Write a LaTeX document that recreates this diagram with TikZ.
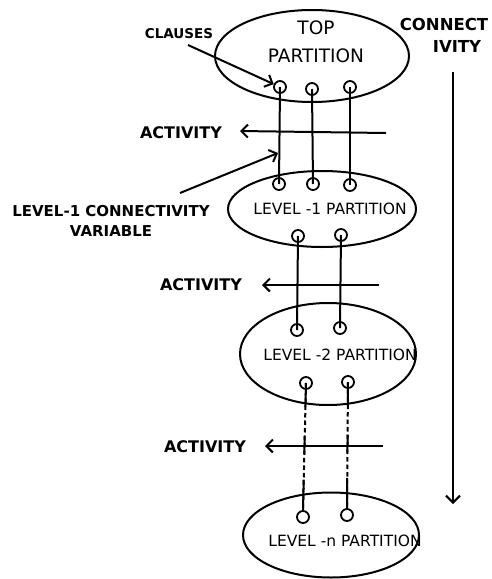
\documentclass[tikz,border=0pt]{standalone}
\usepackage{fontspec}
\setmainfont{DejaVu Sans}
\usetikzlibrary{shapes.geometric,arrows.meta,calc}
\begin{document}
\begin{tikzpicture}[x=1pt,y=-1pt,
  ln/.style={line width=2pt},
  part/.style={draw, ellipse, line width=2pt, inner sep=0pt},
  cl/.style={draw, circle, line width=1.8pt, minimum size=12pt, inner sep=0pt},
  arr/.style={line width=2pt, -{Straight Barb[length=6.5pt,width=13pt]}},
  bl/.style={font=\fontsize{16}{19}\selectfont\bfseries, inner sep=0pt},
  pl/.style={font=\fontsize{15.5}{18}\selectfont, inner sep=0pt},
  dsh/.style={line width=2pt, dash pattern=on 4.5pt off 3pt}]
\useasboundingbox (0,0) rectangle (492,579);

% partitions
\node[part, minimum width=194pt, minimum height=92pt] (top) at (312,56) {};
\node[part, minimum width=188pt, minimum height=76pt] (l1) at (322,209) {};
\node[part, minimum width=176pt, minimum height=102pt] (l2) at (328,354) {};
\node[part, minimum width=176pt, minimum height=85pt] (lnn) at (331,535) {};

\node[align=center, font=\fontsize{18.5}{28}\selectfont, inner sep=0pt] (toptxt) at (316,42) {TOP\\PARTITION};
\node[pl] (l1txt) at (330,209) {LEVEL -1 PARTITION};
\node[pl] (l2txt) at (340,355) {LEVEL -2 PARTITION};
\node[pl] (lntxt) at (345,541) {LEVEL -n PARTITION};

% clause circles
\node[cl] (c1) at (280,87) {};
\node[cl] (c2) at (312,89) {};
\node[cl] (c3) at (350,87) {};
\node[cl] (d1) at (279,184) {};
\node[cl] (d2) at (313,184) {};
\node[cl] (d3) at (350,185) {};
\node[cl] (e1) at (298,236) {};
\node[cl] (e2) at (341,235) {};
\node[cl] (f1) at (297,330) {};
\node[cl] (f2) at (340,328) {};
\node[cl] (g1) at (306,383) {};
\node[cl] (g2) at (348,382) {};
\node[cl] (h1) at (303,517) {};
\node[cl] (h2) at (347,515) {};

% connectivity variables
\draw[ln] (c1.center) -- (d1.center);
\draw[ln] (c2.center) -- (d2.center);
\draw[ln] (c3.center) -- (d3.center);
\draw[ln] (e1.center) -- (f1.center);
\draw[ln] (e2.center) -- (f2.center);
\foreach \g/\h in {g1/h1, g2/h2} {
  \draw[dsh] (\g.center) -- (\h.north);
  \draw[ln] (\g.center) -- ($(\g.center)!0.19!(\h.north)$);
  \draw[ln] ($(\g.center)!0.42!(\h.north)$) -- ($(\g.center)!0.56!(\h.north)$);
  \draw[ln] ($(\g.center)!0.76!(\h.north)$) -- (\h.north);
}

% activity arrows
\node[bl] (act1) at (181,133) {ACTIVITY};
\node[bl] (act2) at (201,285) {ACTIVITY};
\node[bl] (act3) at (205,447) {ACTIVITY};
\coordinate (a1s) at (386,133); \coordinate (a1e) at (240,131);
\coordinate (a2s) at (379,285); \coordinate (a2e) at (262,285);
\coordinate (a3s) at (383,446); \coordinate (a3e) at (265,446);
\draw[arr] (a1s) -- (a1e);
\draw[arr] (a2s) -- (a2e);
\draw[arr] (a3s) -- (a3e);

% connectivity
\node[bl, font=\fontsize{16.5}{19}\selectfont\bfseries] (conn1) at (444,24) {CONNECT};
\node[bl, font=\fontsize{16.5}{19}\selectfont\bfseries] (conn2) at (457,46) {IVITY};
\coordinate (cs) at (453,72); \coordinate (ce) at (453,504);
\draw[line width=2pt, -{Straight Barb[length=7pt,width=14pt]}] (cs) -- (ce);

% clauses label
\node[font=\fontsize{13.5}{16}\selectfont\bfseries, inner sep=0pt] (cls) at (179,33.5) {CLAUSES};
\coordinate (clss) at (188,45);
\draw[arr] (clss) -- (c1);

% level-1 connectivity variable label
\node[align=center, font=\fontsize{15}{20}\selectfont\bfseries, inner sep=0pt] (lcv) at (111,221) {LEVEL-1 CONNECTIVITY\\VARIABLE};
\coordinate (lcvs) at (180,193); \coordinate (lcve) at (278,153);
\draw[arr] (lcvs) -- (lcve);
\end{tikzpicture}
\end{document}
